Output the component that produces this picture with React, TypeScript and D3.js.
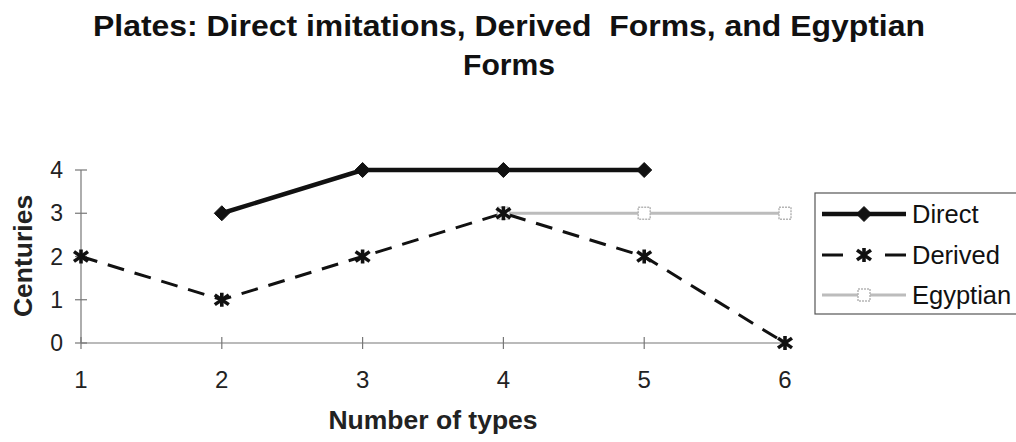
import React from "react";
import * as d3 from "d3";

const categories = [1, 2, 3, 4, 5, 6];
const yTicks = [0, 1, 2, 3, 4];
const directValues: (number | null)[] = [null, 3, 4, 4, 4, null];
const derivedValues: (number | null)[] = [2, 1, 2, 3, 2, 0];
const egyptianValues: (number | null)[] = [null, null, null, 3, 3, 3];

const W = 1016;
const H = 442;
const FONT = "'Liberation Sans', Arial, Helvetica, sans-serif";
const DASH = "17,11";

type Pt = { x: number; y: number };

function pts(values: (number | null)[]): Pt[] {
  const out: Pt[] = [];
  values.forEach((v, i) => {
    if (v !== null) out.push({ x: categories[i], y: v });
  });
  return out;
}

function Diamond({ cx, cy, r }: { cx: number; cy: number; r: number }) {
  return (
    <path
      d={`M${cx},${cy - r}L${cx + r},${cy}L${cx},${cy + r}L${cx - r},${cy}Z`}
      fill="#111"
      stroke="#111"
      strokeWidth={1}
    />
  );
}

function Star({ cx, cy, r }: { cx: number; cy: number; r: number }) {
  return (
    <g stroke="#111" strokeWidth={3.6} strokeLinecap="butt">
      <line x1={cx - r} y1={cy - r * 0.7} x2={cx + r} y2={cy + r * 0.7} />
      <line x1={cx - r} y1={cy + r * 0.7} x2={cx + r} y2={cy - r * 0.7} />
      <line x1={cx} y1={cy - r} x2={cx} y2={cy + r} />
    </g>
  );
}

function Square({ cx, cy, r }: { cx: number; cy: number; r: number }) {
  return (
    <rect
      x={cx - r}
      y={cy - r}
      width={2 * r}
      height={2 * r}
      fill="white"
      stroke="#b5b5b5"
      strokeWidth={1.5}
      strokeDasharray="2,1"
    />
  );
}

export default function App() {
  const x = d3.scaleLinear().domain([1, 6]).range([81, 785]);
  const y = d3.scaleLinear().domain([0, 4]).range([343, 170]);

  const line = d3
    .line<Pt>()
    .x((d) => x(d.x))
    .y((d) => y(d.y));

  const direct = pts(directValues);
  const derived = pts(derivedValues);
  const egyptian = pts(egyptianValues);

  const legendItems = [
    { name: "Direct", y: 214 },
    { name: "Derived", y: 255 },
    { name: "Egyptian", y: 295 },
  ];

  return (
    <svg width={W} height={H} style={{ position: "absolute", left: 0, top: 0, background: "white" }}>
      <rect width={W} height={H} fill="white" />
      {/* Title */}
      <text
        x={509}
        y={36}
        textAnchor="middle"
        fontFamily={FONT}
        fontWeight="bold"
        fontSize={29}
        fill="#111"
        textLength={832}
        lengthAdjust="spacingAndGlyphs"
      >
        Plates: Direct imitations, Derived{"\u00A0"} Forms, and Egyptian
      </text>
      <text
        x={509}
        y={75}
        textAnchor="middle"
        fontFamily={FONT}
        fontWeight="bold"
        fontSize={29}
        fill="#111"
        textLength={92}
        lengthAdjust="spacingAndGlyphs"
      >
        Forms
      </text>

      {/* Axes */}
      <line x1={x(1)} y1={y(0)} x2={x(6)} y2={y(0)} stroke="#777" strokeWidth={1.2} />
      <line x1={x(1)} y1={y(0)} x2={x(1)} y2={y(4)} stroke="#777" strokeWidth={1.2} />
      {yTicks.map((t) => (
        <g key={"y" + t}>
          <line x1={x(1) - 6} x2={x(1) + 6} y1={y(t)} y2={y(t)} stroke="#777" strokeWidth={1.2} />
          <text x={63} y={y(t) + 8} textAnchor="end" fontFamily={FONT} fontSize={23} fill="#222">
            {t}
          </text>
        </g>
      ))}
      {categories.map((c) => (
        <g key={"x" + c}>
          <line x1={x(c)} x2={x(c)} y1={y(0) - 6} y2={y(0) + 6} stroke="#777" strokeWidth={1.2} />
          <text x={x(c)} y={388} textAnchor="middle" fontFamily={FONT} fontSize={24} fill="#222">
            {c}
          </text>
        </g>
      ))}
      <text x={433} y={429} textAnchor="middle" fontFamily={FONT} fontWeight="bold" fontSize={26.5} fill="#222">
        Number of types
      </text>
      <text
        transform={`translate(32,256) rotate(-90)`}
        textAnchor="middle"
        fontFamily={FONT}
        fontWeight="bold"
        fontSize={26.5}
        fill="#222"
      >
        Centuries
      </text>

      {/* Series */}
      <path d={line(egyptian) || ""} fill="none" stroke="#bcbcbc" strokeWidth={3} />
      <path d={line(derived) || ""} fill="none" stroke="#111" strokeWidth={3} strokeDasharray={DASH} />
      <path d={line(direct) || ""} fill="none" stroke="#111" strokeWidth={4.5} />
      {egyptian.map((p, i) => (
        <Square key={"e" + i} cx={x(p.x)} cy={y(p.y)} r={6} />
      ))}
      {derived.map((p, i) => (
        <Star key={"d" + i} cx={x(p.x)} cy={y(p.y)} r={7} />
      ))}
      {direct.map((p, i) => (
        <Diamond key={"r" + i} cx={x(p.x)} cy={y(p.y)} r={7.5} />
      ))}

      {/* Legend */}
      <rect x={815} y={193} width={210} height={121} fill="white" stroke="#555" strokeWidth={1.2} />
      {legendItems.map((it, i) => (
        <g key={it.name}>
          {i === 0 && (
            <>
              <line x1={822} x2={906} y1={it.y} y2={it.y} stroke="#111" strokeWidth={4.5} />
              <Diamond cx={864} cy={it.y} r={7.5} />
            </>
          )}
          {i === 1 && (
            <>
              <line x1={822} x2={843} y1={it.y} y2={it.y} stroke="#111" strokeWidth={3} />
              <line x1={885} x2={906} y1={it.y} y2={it.y} stroke="#111" strokeWidth={3} />
              <Star cx={864} cy={it.y} r={7} />
            </>
          )}
          {i === 2 && (
            <>
              <line x1={822} x2={906} y1={it.y} y2={it.y} stroke="#bcbcbc" strokeWidth={3} />
              <Square cx={864} cy={it.y} r={6} />
            </>
          )}
          <text x={912} y={it.y + 9} fontFamily={FONT} fontSize={25.5} fill="#111">
            {it.name}
          </text>
        </g>
      ))}
    </svg>
  );
}
